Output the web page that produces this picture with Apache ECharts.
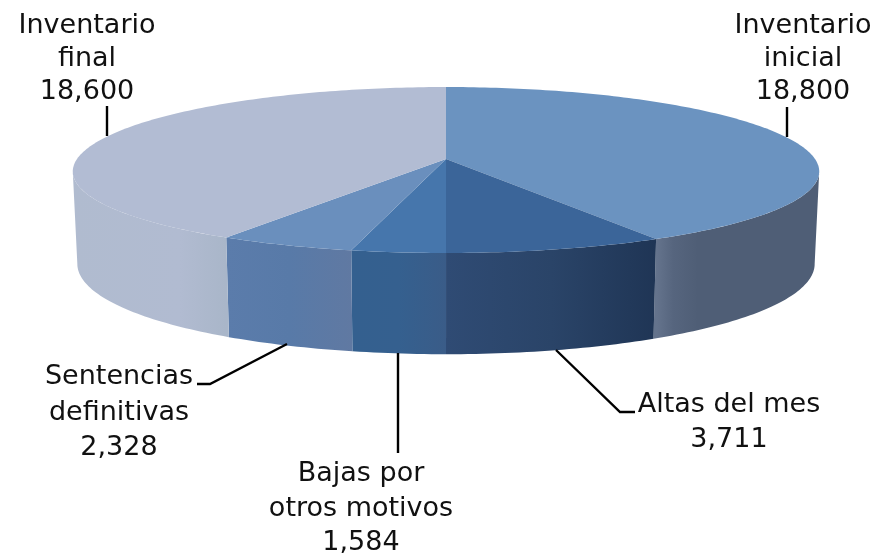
<!DOCTYPE html>
<html><head><meta charset="utf-8">
<style>html,body{margin:0;padding:0;background:#fff}#c{width:877px;height:553px}</style>
<script src="https://cdn.jsdelivr.net/npm/echarts@6/dist/echarts.min.js"></script>
</head><body><div id="c"></div>
<script>
const categories = ['Inventario\ninicial','Altas del mes','Bajas por\notros motivos','Sentencias\ndefinitivas','Inventario\nfinal'];
const values = [18800,3711,1584,2328,18600];
const total = values.reduce((a,b)=>a+b,0);

// presentation only
const topFill = ['#6b93c0','#3b6599','#4676ac','#6a8fbd','#b2bcd3'];
const sideFill = [
  [[0,'#64738c'],[0.1,'#56657e'],[0.25,'#4f5e76'],[1,'#4f5e76']],
  [[0,'#2f4b74'],[0.5,'#2a4468'],[1,'#1f3555']],
  [[0,'#34608f'],[0.5,'#35608f'],[1,'#3a5c88']],
  [[0,'#5b7cab'],[0.5,'#587aa8'],[1,'#6079a2']],
  [[0,'#b0bbcf'],[0.7,'#b1bbd1'],[1,'#a9b6c9']]];
const sideRange = [[657,820],[446,657],[352,446],[226,352],[72,226]];
const labelLayout = [
  {x:803,y:9.5,lh:33,line:[[787,107],[787,137]]},
  {x:729,y:387,lh:35.5,line:[[556,350],[620,412],[635,412]]},
  {x:361,y:457,lh:34.5,line:[[398,353],[398,453]]},
  {x:119,y:359.5,lh:35.5,line:[[287,344],[210,384],[197,384]]},
  {x:87,y:9.5,lh:33,line:[[107,106],[107,136]]}];
const font = {family:'DejaVu Sans',size:27};
const rimAngle = [98.6,261.4];

function project(deg,plane){
  const t=deg*Math.PI/180, X=Math.sin(t), Y=-Math.cos(t);
  const sy=1/(1-0.1325*Y), sx=1/(1-0.15*Y);
  return plane===0 ? [446+369*X*sx,159+81.5*Y*sy] : [446+364.5*X*sx,250+90.4*Y*sy];
}
function arc(a,b,plane){
  const pts=[],n=Math.max(2,Math.ceil(Math.abs(b-a)));
  for(let i=0;i<=n;i++)pts.push(project(a+(b-a)*i/n,plane));
  return pts;
}
function grad(x0,x1,stops){
  return new echarts.graphic.LinearGradient(x0,0,x1,0,stops.map(s=>({offset:s[0],color:s[1]})),true);
}
function renderItem(params,api){
  const i=params.dataIndex;
  let start=0;
  for(let k=0;k<i;k++)start+=values[k];
  const a0=start/total*360,a1=(start+api.value(0))/total*360;
  const children=[];
  const s0=Math.max(a0,rimAngle[0]),s1=Math.min(a1,rimAngle[1]);
  children.push({type:'polygon',z2:1,silent:true,
    shape:{points:arc(s0,s1,0).concat(arc(s1,s0,1))},
    style:{fill:grad(sideRange[i][0],sideRange[i][1],sideFill[i])}});
  children.push({type:'polygon',z2:2,silent:true,
    shape:{points:[[446,159]].concat(arc(a0,a1,0))},
    style:{fill:topFill[i]}});
  const L=labelLayout[i];
  children.push({type:'polyline',z2:3,silent:true,shape:{points:L.line},
    style:{stroke:'#000',lineWidth:2.4,fill:'none'}});
  children.push({type:'text',z2:4,silent:true,
    style:{x:L.x,y:L.y,text:categories[i]+'\n'+values[i].toLocaleString('en-US'),
      align:'center',verticalAlign:'top',fontFamily:font.family,fontSize:font.size,lineHeight:L.lh,fill:'#111'}});
  return {type:'group',children};
}
const chart=echarts.init(document.getElementById('c'),null,{renderer:'canvas'});
chart.setOption({animation:false,backgroundColor:'#fff',
  series:[{type:'custom',coordinateSystem:'none',renderItem,data:values.map(v=>[v]),clip:false,silent:true}]});
</script></body></html>
